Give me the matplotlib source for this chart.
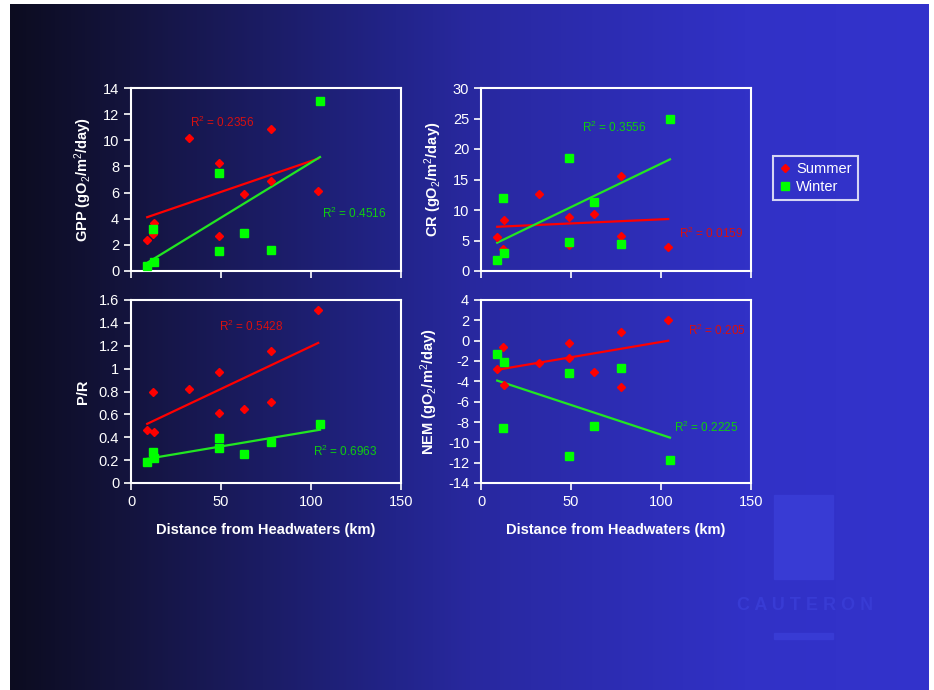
import numpy as np
import matplotlib
matplotlib.use('Agg')
import matplotlib.pyplot as plt
from matplotlib.patches import Rectangle

plt.rcParams['font.family'] = ['Liberation Sans', 'DejaVu Sans']
plt.rcParams['mathtext.fontset'] = 'custom'
plt.rcParams['mathtext.rm'] = 'Liberation Sans'
plt.rcParams['mathtext.it'] = 'Liberation Sans'
plt.rcParams['mathtext.bf'] = 'Liberation Sans:bold'
plt.rcParams['axes.unicode_minus'] = False

# distance from headwaters (km)
dist_summer = [9, 12, 13, 32, 49, 49, 63, 78, 78, 104]
dist_winter = [9, 12, 13, 49, 49, 63, 78, 105]

gpp_summer = [2.4, 2.8, 3.7, 10.2, 8.3, 2.7, 5.9, 10.9, 6.9, 6.1]
gpp_winter = [0.4, 3.2, 0.7, 7.5, 1.5, 2.9, 1.6, 13.0]

cr_summer = [5.5, 3.6, 8.3, 12.7, 8.8, 4.2, 9.3, 15.6, 5.8, 4.0]
cr_winter = [1.8, 12.0, 3.0, 18.6, 4.7, 11.3, 4.4, 24.9]

pr_summer = [0.46, 0.80, 0.45, 0.82, 0.97, 0.61, 0.65, 1.15, 0.71, 1.51]
pr_winter = [0.18, 0.27, 0.22, 0.39, 0.31, 0.25, 0.36, 0.52]

nem_summer = [-2.8, -0.6, -4.4, -2.2, -0.2, -1.7, -3.1, 0.9, -4.6, 2.0]
nem_winter = [-1.3, -8.6, -2.1, -3.2, -11.3, -8.4, -2.7, -11.7]

r2_summer = ['0.2356', '0.0159', '0.5428', '0.205']
r2_winter = ['0.4516', '0.3556', '0.6963', '0.2225']

ylabels = ['GPP (gO$_2$/m$^2$/day)', 'CR (gO$_2$/m$^2$/day)', 'P/R', 'NEM (gO$_2$/m$^2$/day)']
ylims = [(0, 14), (0, 30), (0, 1.6), (-14, 4)]
ysteps = [2, 5, 0.2, 2]
# R2 label anchors (data coords)
r2_pos_summer = [(33, 11.4), (110, 6.1), (49, 1.37), (115, 1.0)]
r2_pos_winter = [(106, 4.4), (56, 23.5), (101, 0.28), (107, -8.5)]

summer_data = [gpp_summer, cr_summer, pr_summer, nem_summer]
winter_data = [gpp_winter, cr_winter, pr_winter, nem_winter]

W, H = 934, 690
fig = plt.figure(figsize=(W / 100, H / 100), dpi=100)
fig.patch.set_facecolor('white')

# gradient background (dark navy -> blue)
bg = fig.add_axes([10 / W, 0, 919 / W, 686 / H], zorder=-10)
stops = [0, 0.13, 0.42, 0.5, 0.8, 1.0]
cols = np.array([[12, 12, 32], [20, 20, 62], [34, 36, 138], [40, 40, 158],
                 [49, 49, 198], [51, 51, 204]]) / 255
t = np.linspace(0, 1, 512)
grad = np.stack([np.interp(t, stops, cols[:, k]) for k in range(3)], axis=1)[None, :, :]
bg.imshow(grad, aspect='auto', extent=[0, 1, 0, 1])
bg.set_axis_off()

# faint logo
logo_c = '#383bd4'
fig.patches.append(Rectangle((774 / W, 1 - 579 / H), 59 / W, 84 / H,
                             transform=fig.transFigure, color=logo_c, zorder=-5))
fig.patches.append(Rectangle((774 / W, 1 - 639 / H), 59 / W, 6 / H,
                             transform=fig.transFigure, color=logo_c, zorder=-5))
fig.text(805 / W, 1 - 605 / H, 'C A U T E R O N', color=logo_c, fontsize=13, fontweight='bold',
         ha='center', va='center', zorder=-4)

positions = [(131, 88), (481, 88), (131, 300), (481, 300)]
aw, ah = 270, 183

red = '#ff0000'
green = '#00ff00'

for i in range(4):
    px, py = positions[i]
    ax = fig.add_axes([px / W, 1 - (py + ah) / H, aw / W, ah / H])
    ax.set_facecolor('none')
    xs, ys = np.array(dist_summer), np.array(summer_data[i])
    xw, yw = np.array(dist_winter), np.array(winter_data[i])

    ax.plot(xs, ys, 'D', color=red, markersize=4.5, label='Summer', zorder=3)
    ax.plot(xw, yw, 's', color=green, markersize=6, label='Winter', zorder=3)

    for x, y, c in [(xs, ys, red), (xw, yw, '#22e622')]:
        k, b = np.polyfit(x, y, 1)
        xx = np.array([x.min(), x.max()])
        ax.plot(xx, k * xx + b, color=c, lw=1.6, zorder=2)

    sx, sy = r2_pos_summer[i]
    ax.text(sx, sy, 'R$^2$ = ' + r2_summer[i], color='#d81010', fontsize=8.5,
            va='center', clip_on=False)
    wx, wy = r2_pos_winter[i]
    ax.text(wx, wy, 'R$^2$ = ' + r2_winter[i], color='#10cc10', fontsize=8.5,
            va='center', clip_on=False)

    ax.set_xlim(0, 150)
    ax.set_xticks([0, 50, 100, 150])
    lo, hi = ylims[i]
    ax.set_ylim(lo, hi)
    ax.set_yticks(np.arange(lo, hi + ysteps[i] / 2, ysteps[i]))
    if i == 2:
        ax.set_yticklabels(['0', '0.2', '0.4', '0.6', '0.8', '1', '1.2', '1.4', '1.6'])
    for s in ax.spines.values():
        s.set_color('white')
        s.set_linewidth(1.5)
    ax.tick_params(colors='white', labelsize=10.5, length=5, width=1.2, direction='out')
    ax.set_ylabel(ylabels[i], color='white', fontsize=10.5, fontweight='bold', labelpad=6)
    if i >= 2:
        ax.set_xlabel('Distance from Headwaters (km)', color='white', fontsize=10.5,
                      fontweight='bold', labelpad=10)
    else:
        ax.set_xticklabels([])
    if i == 0:
        handles, labels = ax.get_legend_handles_labels()

leg = fig.legend(handles, labels, loc='upper left', bbox_to_anchor=(773 / W, 1 - 156 / H),
                 frameon=True, fontsize=10.5, handlelength=0.8, handletextpad=0.4,
                 borderaxespad=0, borderpad=0.4, labelspacing=0.3, fancybox=False)
leg.get_frame().set_facecolor('none')
leg.get_frame().set_edgecolor('white')
leg.get_frame().set_linewidth(1.5)
for txt in leg.get_texts():
    txt.set_color('white')

fig.savefig('out.png', dpi=100)
